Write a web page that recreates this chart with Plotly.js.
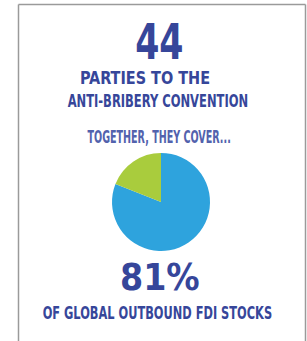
<!DOCTYPE html>
<html>
<head>
<meta charset="utf-8">
<script src="https://cdn.plot.ly/plotly-3.0.1.min.js"></script>
<style>html,body{margin:0;padding:0;background:#fff;}#chart{width:307px;height:341px;}</style>
</head>
<body>
<div id="chart"></div>
<script>
const sliceLabels = ["Parties to the Convention", "Rest of world"];
const sliceValues = [81, 19];
const sliceColors = ["#2ea3dd", "#a9cc3d"];
const partiesCount = "44";
const coverShare = "81%";
const FONT = "'DejaVu Sans Condensed', 'DejaVu Sans', sans-serif";
const W = 307, H = 341;
function py(px){ return 1 - px / H; }
function pxX(px){ return px / W; }

const data = [{
  type: "pie",
  labels: sliceLabels,
  values: sliceValues,
  marker: {colors: sliceColors, line: {width: 0}},
  sort: false,
  direction: "clockwise",
  rotation: 0,
  textinfo: "none",
  hoverinfo: "skip",
  showlegend: false,
  domain: {x: [pxX(112), pxX(210)], y: [py(251), py(153)]}
}];

const dark = "#36469a";
// [text, centerX, centerY, fontSize, color, targetWidth]
const texts = [
  [partiesCount, 159, 42, 50, dark, 51],
  ["PARTIES TO THE", 145, 77, 18, dark, 133],
  ["ANTI-BRIBERY CONVENTION", 158, 100.5, 18, dark, 183],
  ["TOGETHER, THEY COVER...", 159, 136, 18, "#5262ad", 145],
  [coverShare, 160, 277, 37, dark, 83],
  ["OF GLOBAL OUTBOUND FDI STOCKS", 157.5, 312, 18, dark, 232]
];

const layout = {
  width: W, height: H,
  margin: {l: 0, r: 0, t: 0, b: 0},
  paper_bgcolor: "#ffffff",
  plot_bgcolor: "#ffffff",
  showlegend: false,
  annotations: texts.map(t => ({
    text: t[0], x: pxX(t[1]), y: py(t[2]), xref: "paper", yref: "paper",
    xanchor: "center", yanchor: "middle", showarrow: false,
    font: {family: FONT, size: t[3], color: t[4], weight: 700}
  })),
  shapes: [
    {type: "line", xref: "paper", yref: "paper", x0: pxX(18.5), x1: pxX(18.5), y0: 0, y1: py(4.5), line: {color: "#9a9a9a", width: 1.5}},
    {type: "line", xref: "paper", yref: "paper", x0: pxX(18.5), x1: pxX(305.5), y0: py(4.5), y1: py(4.5), line: {color: "#9a9a9a", width: 1.5}},
    {type: "line", xref: "paper", yref: "paper", x0: pxX(305.5), x1: pxX(305.5), y0: 0, y1: py(4.5), line: {color: "#9a9a9a", width: 1.5}}
  ]
};

Plotly.newPlot("chart", data, layout, {displayModeBar: false, staticPlot: true}).then(gd => {
  texts.forEach((t, i) => {
    const g = gd.querySelector('.annotation[data-index="' + i + '"]');
    if (!g) return;
    const tg = g.querySelector('.annotation-text-g') || g;
    const bb = tg.getBBox();
    if (!bb.width) return;
    const sx = t[5] / bb.width;
    const cx = bb.x + bb.width / 2;
    const prev = tg.getAttribute("transform") || "";
    tg.setAttribute("transform", prev + " translate(" + cx + ",0) scale(" + sx + ",1) translate(" + (-cx) + ",0)");
  });
});
</script>
</body>
</html>
